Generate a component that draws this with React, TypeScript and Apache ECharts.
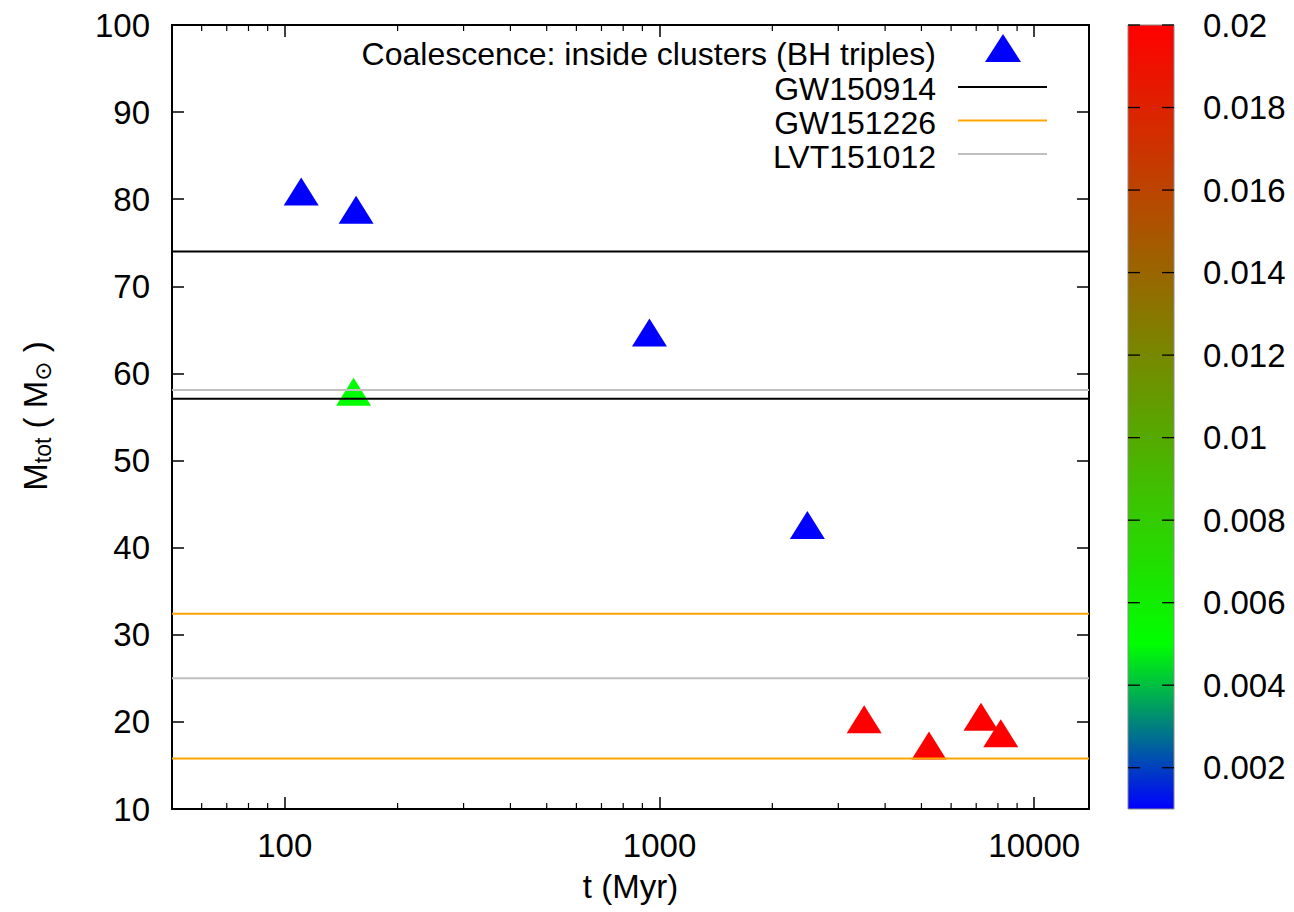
import React, { useEffect, useRef } from 'react';
import * as echarts from 'echarts';

// Coalescence events: time (Myr), total mass (Msun), metallicity Z
const T_MYR = [110.6, 155, 152.6, 940, 2481, 3517, 5238, 7208, 8140];
const M_TOT = [80.9, 78.8, 57.9, 64.7, 42.6, 20.3, 17.3, 20.6, 18.7];
const METALLICITY = [0.001, 0.001, 0.005, 0.001, 0.001, 0.02, 0.02, 0.02, 0.02];

// Total-mass bounds of the LIGO detections (horizontal reference lines)
const GW150914 = [74.0, 57.1];
const GW151226 = [32.4, 15.8];
const LVT151012 = [58.1, 25.0];

const X_RANGE = [50, 14000];
const Y_RANGE = [10, 100];
const X_MINOR_TICKS = [60, 70, 80, 90, 200, 300, 400, 500, 600, 700, 800, 900, 2000, 3000, 4000, 5000, 6000, 7000, 8000, 9000];
const Z_RANGE = [0.001, 0.02];
const Z_TICKS = [0.002, 0.004, 0.006, 0.008, 0.01, 0.012, 0.014, 0.016, 0.018, 0.02];

const LEGEND_SCATTER = 'Coalescence: inside clusters (BH triples)';
const LEGEND_LINES = ['GW150914', 'GW151226', 'LVT151012'];
const LINE_COLORS = ['#000000', '#ffa500', '#c0c0c0'];

const FONT = '"Liberation Sans", Arial, Helvetica, sans-serif';
const FS = 33;
const FS_KEY = 32;

// blue -> green -> red palette, linear in RGB between knots
const PALETTE_KNOTS: [number, number[]][] = [
  [0.001, [0, 0, 255]],
  [0.005, [0, 255, 0]],
  [0.02, [255, 0, 0]],
];
function paletteColor(z: number): string {
  for (let i = 0; i < PALETTE_KNOTS.length - 1; i++) {
    const [z0, c0] = PALETTE_KNOTS[i];
    const [z1, c1] = PALETTE_KNOTS[i + 1];
    if (z <= z1 + 1e-12) {
      const f = Math.max(0, Math.min(1, (z - z0) / (z1 - z0)));
      const c = c0.map((v, k) => Math.round(v + (c1[k] - v) * f));
      return `rgb(${c[0]},${c[1]},${c[2]})`;
    }
  }
  return 'rgb(255,0,0)';
}
const PALETTE: string[] = [];
for (let i = 0; i <= 38; i++) PALETTE.push(paletteColor(Z_RANGE[0] + i * 0.0005));

const GRID = { left: 172, top: 25, width: 917, height: 784 };
const CBAR = { left: 1128, top: 25, width: 46, height: 784 };

export default function App() {
  const ref = useRef<HTMLDivElement>(null);

  useEffect(() => {
    if (!ref.current) return;
    const chart = echarts.init(ref.current, undefined, { renderer: 'svg' });

    const hLine = (name: string, y: number, color: string) => ({
      type: 'line',
      name,
      data: [[X_RANGE[0], y], [X_RANGE[1], y]],
      symbol: 'none',
      silent: true,
      z: 4,
      lineStyle: { color, width: 2 },
      xAxisIndex: 0,
      yAxisIndex: 0,
    });

    // short inward tick marks placed through the axes (log minor ticks, colour-bar ticks)
    const tickMarks = (data: number[][], size: number[], offset: number[], xi: number, yi: number) => ({
      type: 'scatter',
      data,
      symbol: 'rect',
      symbolSize: size,
      symbolOffset: offset,
      itemStyle: { color: '#000', opacity: 1 },
      silent: true,
      z: 6,
      xAxisIndex: xi,
      yAxisIndex: yi,
    });

    const tickLabel = { color: '#000', fontSize: FS, fontFamily: FONT };

    // colour bar fill, bottom (low Z) to top (high Z)
    const barGradient = new echarts.graphic.LinearGradient(
      0, 1, 0, 0,
      PALETTE.map((color, i) => ({ offset: i / (PALETTE.length - 1), color })),
    );

    const legendRows = [54, 88.5, 122.5, 156.5];
    const legendLineY = [87, 120.5, 154];
    const legendText = (text: string, y: number) => ({
      type: 'text', x: 936, y,
      style: { text, align: 'right', verticalAlign: 'middle', fontSize: FS_KEY, fontFamily: FONT, fill: '#000' },
    });

    const option: any = {
      animation: false,
      backgroundColor: '#fff',
      textStyle: { fontFamily: FONT },
      grid: [
        { ...GRID, show: true, borderColor: '#000', borderWidth: 2, backgroundColor: 'transparent', outerBoundsMode: 'none', containLabel: false },
        { ...CBAR, show: true, z: 0, borderColor: '#8a8a8a', borderWidth: 1, backgroundColor: barGradient, outerBoundsMode: 'none', containLabel: false },
      ],
      xAxis: [
        {
          type: 'log', gridIndex: 0, position: 'bottom', min: X_RANGE[0], max: X_RANGE[1], logBase: 10,
          name: 't (Myr)', nameLocation: 'middle', nameGap: 61,
          nameTextStyle: { color: '#000', fontSize: FS, fontFamily: FONT },
          axisLine: { show: true, lineStyle: { color: '#000', width: 2 } },
          axisTick: { show: true, inside: true, length: 12, lineStyle: { color: '#000', width: 1.5 } },
          axisLabel: { ...tickLabel, margin: 20, showMinLabel: false, showMaxLabel: false, formatter: (v: number) => String(Math.round(v)) },
          splitLine: { show: false }, minorTick: { show: false },
        },
        {
          type: 'log', gridIndex: 0, position: 'top', min: X_RANGE[0], max: X_RANGE[1], logBase: 10,
          axisLine: { show: true, lineStyle: { color: '#000', width: 2 } },
          axisTick: { show: true, inside: true, length: 12, lineStyle: { color: '#000', width: 1.5 } },
          axisLabel: { show: false }, splitLine: { show: false },
        },
        { type: 'value', gridIndex: 1, show: false, min: 0, max: 1 },
      ],
      yAxis: [
        {
          type: 'value', gridIndex: 0, position: 'left', min: Y_RANGE[0], max: Y_RANGE[1], interval: 10,
          axisLine: { show: true, lineStyle: { color: '#000', width: 2 } },
          axisTick: { show: true, inside: true, length: 12, lineStyle: { color: '#000', width: 1.5 } },
          axisLabel: { ...tickLabel, margin: 22 },
          splitLine: { show: false },
        },
        {
          type: 'value', gridIndex: 0, position: 'right', min: Y_RANGE[0], max: Y_RANGE[1], interval: 10,
          axisLine: { show: true, lineStyle: { color: '#000', width: 2 } },
          axisTick: { show: true, inside: true, length: 12, lineStyle: { color: '#000', width: 1.5 } },
          axisLabel: { show: false }, splitLine: { show: false },
        },
        {
          type: 'value', gridIndex: 1, position: 'right', min: Z_RANGE[0], max: Z_RANGE[1],
          axisLine: { show: false, onZero: false },
          axisTick: { show: false },
          axisLabel: { ...tickLabel, margin: 29, customValues: Z_TICKS, formatter: (v: number) => String(+(+v).toFixed(4)) },
          splitLine: { show: false },
        },
      ],
      visualMap: {
        type: 'continuous',
        show: false,
        seriesIndex: 0,
        dimension: 2,
        min: Z_RANGE[0],
        max: Z_RANGE[1],
        inRange: { color: PALETTE, opacity: 1 },
      },
      series: [
        {
          type: 'scatter',
          name: LEGEND_SCATTER,
          data: T_MYR.map((t, i) => [t, M_TOT[i], METALLICITY[i]]),
          symbol: 'triangle',
          symbolSize: [35, 28],
          itemStyle: { opacity: 1 },
          z: 3,
          xAxisIndex: 0,
          yAxisIndex: 0,
        },
        hLine(LEGEND_LINES[0], GW150914[0], LINE_COLORS[0]),
        hLine(LEGEND_LINES[0], GW150914[1], LINE_COLORS[0]),
        hLine(LEGEND_LINES[1], GW151226[0], LINE_COLORS[1]),
        hLine(LEGEND_LINES[1], GW151226[1], LINE_COLORS[1]),
        hLine(LEGEND_LINES[2], LVT151012[0], LINE_COLORS[2]),
        hLine(LEGEND_LINES[2], LVT151012[1], LINE_COLORS[2]),
        tickMarks(X_MINOR_TICKS.map((x) => [x, Y_RANGE[0]]), [1.2, 6], [0, -3], 0, 0),
        tickMarks(X_MINOR_TICKS.map((x) => [x, Y_RANGE[1]]), [1.2, 6], [0, 3], 0, 0),
        tickMarks(Z_TICKS.map((z) => [0, z]), [12, 1.3], [6, 0], 2, 2),
        tickMarks(Z_TICKS.map((z) => [1, z]), [12, 1.3], [-6, 0], 2, 2),
      ],
      graphic: [
        // y-axis title with subscripts
        {
          type: 'text',
          x: 35,
          y: 416,
          rotation: Math.PI / 2,
          style: {
            text: '{m|M}{s|tot}{m| ( M}{o|\u2299}{m| )}',
            align: 'center',
            verticalAlign: 'middle',
            fill: '#000',
            rich: {
              m: { fontSize: FS, fontFamily: FONT, lineHeight: 38, fill: '#000' },
              s: { fontSize: 23, fontFamily: FONT, lineHeight: 23, verticalAlign: 'bottom', fill: '#000' },
              o: { fontSize: 23, fontFamily: '"DejaVu Sans", sans-serif', lineHeight: 28, verticalAlign: 'bottom', fill: '#000' },
            },
          },
        },
        // key
        legendText(LEGEND_SCATTER, legendRows[0]),
        {
          type: 'polygon',
          shape: { points: [[1003, 34], [1021, 62], [985, 62]] },
          style: { fill: '#0000ff' },
        },
        ...LEGEND_LINES.flatMap((name, i) => [
          legendText(name, legendRows[i + 1]),
          {
            type: 'line',
            shape: { x1: 958, y1: legendLineY[i], x2: 1047, y2: legendLineY[i] },
            style: { stroke: LINE_COLORS[i], lineWidth: 2 },
          },
        ]),
      ],
    };

    chart.setOption(option);
    return () => chart.dispose();
  }, []);

  return (
    <div
      ref={ref}
      style={{ position: 'fixed', left: 0, top: 0, width: 1294, height: 912, background: '#fff' }}
    />
  );
}
